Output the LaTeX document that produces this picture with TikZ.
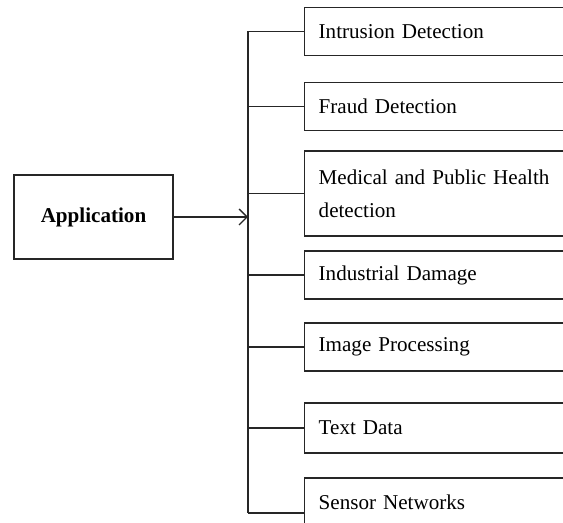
\documentclass[tikz,border=0pt]{standalone}
\usepackage{fontspec}
\setmainfont{Liberation Serif}
\usetikzlibrary{arrows.meta}

\begin{document}
\begin{tikzpicture}[
        box/.style={draw=black!85, line width=0.8pt, anchor=west, inner xsep=0.28cm,
            text width=5.44cm, align=left, minimum height=0.96cm,
            font=\fontsize{12}{19}\selectfont},
        app_box/.style={draw=black!85, line width=0.8pt, minimum width=3.18cm,
            minimum height=1.68cm, font=\fontsize{12}{14}\selectfont\bfseries},
        link/.style={draw=black!85, line width=0.8pt},
        arrow/.style={link, -{Straight Barb[length=4.5pt, width=9pt, line width=0.8pt]}}
    ]

        \useasboundingbox (0,0) rectangle (11.26,10.46);
        \clip (0,0) rectangle (11.26,10.46);

        \node[app_box] (app) at (1.87, 6.12) {Application};
        \coordinate (hub) at (4.96, 6.14);

        % application areas, boxes run off the right side
        \node[box] (b1) at (6.08, 9.83) {Intrusion Detection};
        \node[box] (b2) at (6.08, 8.33) {Fraud Detection};
        \node[box, minimum height=1.70cm] (b3) at (6.08, 6.59) {Medical and Public Health\\detection};
        \node[box] (b4) at (6.08, 4.96) {Industrial Damage};
        \node[box] (b5) at (6.08, 3.52) {Image Processing};
        \node[box, minimum height=1.0cm] (b6) at (6.08, 1.90) {Text Data};
        \node[box, minimum height=1.4cm, text depth=0.45cm] (b7) at (6.08, 0.20) {Sensor Networks};

        \draw[arrow] (app.east) -- (app.east -| hub);
        \draw[link] (hub |- b1.west) -- (hub |- b7.west);

        \foreach \b in {b1, b2, b3, b4, b5, b6, b7} {
            \draw[link] (hub |- \b.west) -- (\b.west);
        }
    \end{tikzpicture}
\end{document}
